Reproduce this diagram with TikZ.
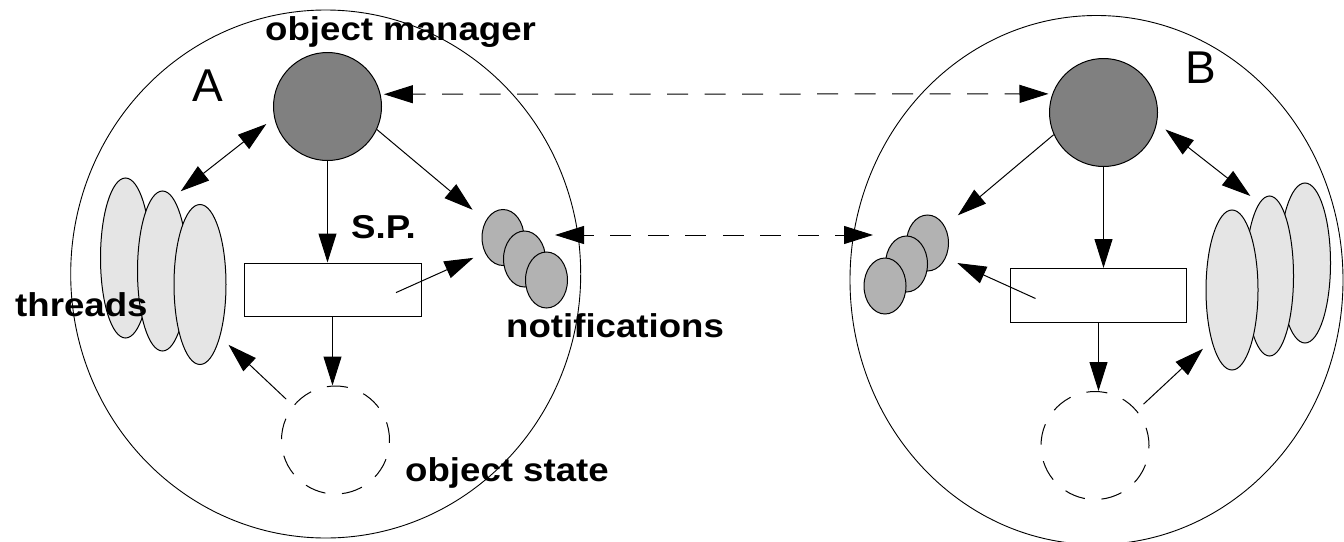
\documentclass[tikz,border=0pt]{standalone}
\usepackage{fontspec}
\setmainfont{Liberation Sans}
\newfontfamily\lbl[FakeStretch=1.11]{Liberation Sans}
\usetikzlibrary{arrows.meta,shapes.geometric}

\definecolor{mgrgray}{gray}{0.5}
\definecolor{thrgray}{gray}{0.9}
\definecolor{ntfgray}{gray}{0.7}

\tikzset{
  cell/.style={draw, ellipse, inner sep=0pt, line width=0.9pt},
  manager/.style={draw, circle, fill=mgrgray, inner sep=0pt, minimum size=108pt, line width=1pt},
  thread/.style={draw, ellipse, fill=thrgray, inner sep=0pt, minimum width=50pt, minimum height=160pt, line width=1pt},
  notif/.style={draw, ellipse, fill=ntfgray, inner sep=0pt, minimum width=42pt, minimum height=56pt, line width=1pt},
  spbox/.style={draw, rectangle, inner sep=0pt, minimum width=177pt, minimum height=53pt, line width=1pt},
  ostate/.style={draw, circle, inner sep=0pt, minimum size=108pt, line width=1pt,
                 dash pattern=on 21pt off 16.7pt, dash phase=3pt},
  tip/.tip={Triangle[length=29pt,width=18pt]},
  ar/.style={-tip, line width=1pt},
  dar/.style={tip-tip, line width=1pt},
  link/.style={tip-tip, line width=1pt, dash pattern=on 21pt off 16.5pt},
  lab/.style={inner sep=0pt, anchor=base west, font=\lbl\bfseries\fontsize{33}{36}\selectfont},
  big/.style={inner sep=0pt, anchor=base west, font=\fontsize{46}{50}\selectfont},
}

\begin{document}
\begin{tikzpicture}[x=1pt, y=-1pt]
\useasboundingbox (0,0) rectangle (1344,541);

% the two cells
\node[cell, minimum width=510pt, minimum height=528pt] (cellA) at (325.7,274) {};
\node[cell, minimum width=493pt, minimum height=529pt] (cellB) at (1096.5,280) {};

% ---- cell A ----
\node[manager] (omA) at (327.5,106.5) {};
\node[thread] (thrA1) at (125.5,258) {};
\node[thread] (thrA2) at (162.5,271) {};
\node[thread, minimum width=52pt] (thrA3) at (200,284.5) {};
\node[spbox] (rectA) at (332.5,289.5) {};
\node[notif] (ntfA1) at (503,237.5) {};
\node[notif] (ntfA2) at (524.5,259) {};
\node[notif] (ntfA3) at (546.5,280) {};
\node[ostate] (stA) at (335.5,440) {};
\coordinate (spA) at (396,292.6);

\draw[dar, shorten <=10pt, shorten >=10pt] (omA.192) -- (thrA2.82);
\draw[ar] (omA.south) -- (omA.south |- rectA.north);
\draw[ar, shorten >=17pt] (omA.-25) -- (ntfA1.136);
\draw[ar, shorten >=12.5pt] (spA) -- (ntfA1.220);
\draw[ar] (rectA.south) -- (rectA.south |- stA.north);
\draw[ar, shorten <=9.6pt, shorten >=11.5pt] (stA.141) -- (thrA3.-69);

% ---- cell B ----
\node[manager] (omB) at (1103.5,112.5) {};
\node[thread, minimum width=51pt] (thrB1) at (1305,263) {};
\node[thread, minimum width=48pt] (thrB2) at (1269.5,276) {};
\node[thread, minimum width=52pt] (thrB3) at (1232,290) {};
\node[spbox, minimum width=175.7pt, minimum height=53.5pt] (rectB) at (1098.5,295.25) {};
\node[notif] (ntfB1) at (927.5,243) {};
\node[notif] (ntfB2) at (906.5,264) {};
\node[notif] (ntfB3) at (885,286) {};
\node[ostate] (stB) at (1095,445.5) {};
\coordinate (spB) at (1035.5,298.5);

\draw[dar, shorten <=10.7pt, shorten >=11.3pt] (omB.-11) -- (thrB2.98);
\draw[ar, shorten >=17pt] (omB.204) -- (ntfB1.44);
\draw[ar] (omB.south) -- (omB.south |- rectB.north);
\draw[ar, shorten >=12.5pt] (spB) -- (ntfB1.-39.5);
\draw[ar] (rectB.south) -- (rectB.south |- stB.north);
\draw[ar, shorten <=9.2pt, shorten >=11.6pt] (stB.40) -- (thrB3.248.7);

% ---- links between the cells ----
\draw[link, dash phase=8pt, shorten <=3.3pt, shorten >=3.8pt] (omA.13.4) -- (omB.160);
\coordinate (ntfAend) at (555,235);
\coordinate (ntfBend) at (873,235);
\draw[link, dash phase=11pt] (ntfAend) -- (ntfBend);

% ---- labels ----
\node[lab] (tOM) at (265,40) {object manager};
\node[lab] (tTh) at (15,316.5) {threads};
\node[lab] (tSP) at (351,238) {S.P.};
\node[lab] (tNt) at (506,337) {notifications};
\node[lab] (tOS) at (405,481.5) {object state};
\node[big] (tA) at (192,101.7) {A};
\node[big] (tB) at (1185.5,83.3) {B};
\end{tikzpicture}
\end{document}
